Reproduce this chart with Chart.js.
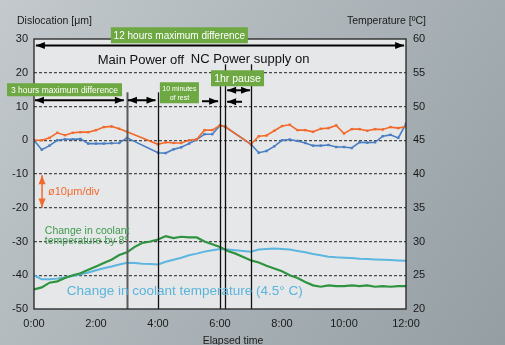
<!DOCTYPE html>
<html>
<head>
<meta charset="utf-8">
<script src="https://cdn.jsdelivr.net/npm/chart.js@4"></script>
<style>
  html, body { margin: 0; padding: 0; }
  #wrap { position: relative; width: 505px; height: 345px; }
</style>
</head>
<body>
<div id="wrap"><canvas id="chart"></canvas></div>
<script>
// Elapsed time (hours) of the dislocation readings
const dislocTimes = [0, 0.25, 0.5, 0.75, 1, 1.25, 1.5, 1.75, 2, 2.25, 2.5, 2.75, 3,
  4, 4.25, 4.5, 4.75, 5, 5.25, 5.5, 5.75, 6,
  6.17,
  7, 7.25, 7.5, 7.75, 8, 8.25, 8.5, 8.75, 9, 9.25, 9.5, 9.75, 10, 10.25, 10.5, 10.75, 11, 11.25, 11.5, 11.75, 12];
// Dislocation [μm] - orange series
const dislocOrange = [0, 0, 0.7, 2.2, 1.5, 2.2, 2.4, 2.4, 3.0, 3.9, 4.1, 3.4, 2.5,
  -1.2, -0.6, -0.8, -0.8, 0, 0.3, 3.0, 3.0, 4.4,
  4.0,
  -1.2, 1.2, 1.4, 2.8, 4.2, 4.6, 3.0, 3.0, 2.5, 3.4, 3.6, 4.4, 2.0, 3.3, 3.3, 2.8, 3.3, 3.2, 3.9, 3.6, 4.1];
// Dislocation [μm] - blue series
const dislocBlue = [0, -2.8, -1.6, 0, 0.3, 0.3, 0.4, -1.0, -1.0, -1.0, -0.9, -0.8, 0.7,
  -3.7, -3.8, -2.7, -2.1, -1.0, 0.2, 1.8, 1.8, 4.4,
  4.0,
  -1.2, -3.7, -3.2, -1.8, 0, 0.2, -0.2, -0.8, -1.6, -1.6, -1.4, -2.0, -2.0, -2.3, -0.6, -0.7, -0.6, 1.2, 1.6, 0.7, 4.9];

// Elapsed time (hours) of the coolant temperature readings
const tempTimes = [0, 0.25, 0.5, 0.75, 1, 1.25, 1.5, 1.75, 2, 2.25, 2.5, 2.75, 3, 3.25, 3.5, 3.75,
  4, 4.25, 4.5, 4.75, 5, 5.25, 5.5, 5.75, 6, 6.25, 6.5, 6.75, 7, 7.25, 7.5, 7.75,
  8, 8.25, 8.5, 8.75, 9, 9.25, 9.5, 9.75, 10, 10.25, 10.5, 10.75, 11, 11.25, 11.5, 11.75, 12];
// Temperature [ºC] - coolant changed by 8°
const coolant8 = [22.9, 23.2, 23.9, 24.1, 24.6, 25.0, 25.3, 25.8, 26.3, 26.8, 27.3, 28.0, 28.4, 29.2, 29.8, 30.0,
  30.3, 30.8, 30.5, 30.7, 30.6, 30.6, 30.0, 29.6, 29.2, 28.6, 28.2, 27.7, 27.2, 26.9, 26.4, 26.0,
  25.6, 25.0, 24.6, 24.0, 23.5, 23.3, 23.5, 23.4, 23.4, 23.5, 23.4, 23.5, 23.3, 23.4, 23.3, 23.4, 23.4];
// Temperature [ºC] - coolant changed by 4.5°
const coolant45 = [25.0, 24.4, 24.4, 24.5, 24.7, 24.9, 25.15, 25.4, 25.75, 26.05, 26.3, 26.6, 26.85, 26.8, 26.7, 26.65,
  26.6, 27.0, 27.3, 27.6, 27.95, 28.2, 28.5, 28.7, 28.9, 28.8, 28.7, 28.6, 28.5, 28.8, 28.9, 28.95,
  28.9, 28.8, 28.6, 28.4, 28.15, 27.95, 27.75, 27.65, 27.6, 27.55, 27.45, 27.4, 27.35, 27.3, 27.25, 27.2, 27.15];

const FONT = '"Liberation Sans", Arial, sans-serif';
const GREEN_BOX = '#6ea843';

function toPoints(xs, ys) {
  return xs.map((x, i) => ({ x: x, y: ys[i] }));
}

// Draws a straight arrow, heads: 'both' or 'end'
function arrow(ctx, x1, y1, x2, y2, heads, color, width) {
  const ang = Math.atan2(y2 - y1, x2 - x1);
  const len = 9, half = 3.5;
  ctx.strokeStyle = color;
  ctx.fillStyle = color;
  ctx.lineWidth = width;
  ctx.beginPath();
  ctx.moveTo(x1, y1);
  ctx.lineTo(x2, y2);
  ctx.stroke();
  const head = (x, y, a) => {
    ctx.beginPath();
    ctx.moveTo(x, y);
    ctx.lineTo(x - len * Math.cos(a) + half * Math.sin(a), y - len * Math.sin(a) - half * Math.cos(a));
    ctx.lineTo(x - len * Math.cos(a) - half * Math.sin(a), y - len * Math.sin(a) + half * Math.cos(a));
    ctx.closePath();
    ctx.fill();
  };
  head(x2, y2, ang);
  if (heads === 'both') head(x1, y1, ang + Math.PI);
}

const overlay = {
  id: 'overlay',
  beforeDraw(chart) {
    const { ctx, width, height, chartArea: a } = chart;
    ctx.save();
    const g = ctx.createLinearGradient(0, 0, width, height);
    g.addColorStop(0, '#c3c9cd');
    g.addColorStop(1, '#949ea3');
    ctx.fillStyle = g;
    ctx.fillRect(0, 0, width, height);
    ctx.fillStyle = '#e6e7e9';
    ctx.fillRect(a.left, a.top, a.right - a.left, a.bottom - a.top);
    ctx.restore();
  },
  afterDatasetsDraw(chart) {
    const { ctx, chartArea: a } = chart;
    const X = t => chart.scales.x.getPixelForValue(t);
    const Y = v => chart.scales.y.getPixelForValue(v);
    ctx.save();

    // event lines (time, top value)
    [[3, 14.2, '#5a5a5a', 2], [4, 14.2, '#111', 1.3], [6, 16, '#111', 1.3],
     [6.17, 22.5, '#111', 1.3], [7, 22.5, '#111', 1.3]].forEach(([t, top, c, w]) => {
      ctx.strokeStyle = c;
      ctx.lineWidth = w;
      ctx.beginPath();
      ctx.moveTo(Math.round(X(t)) + 0.5, Y(top));
      ctx.lineTo(Math.round(X(t)) + 0.5, a.bottom);
      ctx.stroke();
    });

    // frame
    ctx.strokeStyle = '#222';
    ctx.lineWidth = 1.3;
    ctx.strokeRect(a.left, a.top, a.right - a.left, a.bottom - a.top);

    // arrows
    arrow(ctx, X(0.06), Y(28.1), X(11.94), Y(28.1), 'both', '#000', 2);
    arrow(ctx, X(0.03), Y(11.85), X(2.9), Y(11.85), 'both', '#000', 2);
    arrow(ctx, X(3.03), Y(11.85), X(3.92), Y(11.85), 'both', '#000', 2);
    arrow(ctx, X(5.42), Y(11.56), X(5.94), Y(11.56), 'end', '#000', 2);
    arrow(ctx, X(6.71), Y(11.4), X(6.23), Y(11.4), 'end', '#000', 2);
    arrow(ctx, X(6.23), Y(14.8), X(6.97), Y(14.8), 'both', '#000', 2);
    arrow(ctx, X(0.26), Y(-10.4), X(0.26), Y(-19.9), 'both', '#f06a2c', 1.5);

    // green label boxes
    [[['12 hours maximum difference'], 2.48, 6.9, 33.48, 28.74, 10],
     [['3 hours maximum difference'], -0.87, 2.84, 16.89, 13.04, 8.5],
     [['10 minutes', 'of rest'], 4.06, 5.32, 17.19, 10.96, 7],
     [['1hr pause'], 5.71, 7.42, 20.74, 16.0, 10.5]].forEach(([lines, t0, t1, v0, v1, fs]) => {
      const x0 = X(t0), x1 = X(t1), y0 = Y(v0), y1 = Y(v1);
      ctx.fillStyle = GREEN_BOX;
      ctx.fillRect(x0, y0, x1 - x0, y1 - y0);
      ctx.fillStyle = '#fff';
      ctx.font = fs + 'px ' + FONT;
      ctx.textAlign = 'center';
      ctx.textBaseline = 'middle';
      const lh = fs * 1.25;
      const cy = (y0 + y1) / 2 - (lines.length - 1) * lh / 2;
      lines.forEach((s, i) => ctx.fillText(s, (x0 + x1) / 2, cy + i * lh + 0.5));
    });

    // plain texts
    ctx.textBaseline = 'alphabetic';
    ctx.fillStyle = '#111';
    ctx.font = '13px ' + FONT;
    ctx.textAlign = 'center';
    ctx.fillText('Main Power off', X(3.45), Y(22.5));
    ctx.textAlign = 'left';
    ctx.fillText('NC Power supply on', X(5.06), Y(22.8));

    ctx.fillStyle = '#f06a2c';
    ctx.font = '11px ' + FONT;
    ctx.fillText('ø10μm/div', X(0.45), Y(-16.1));

    ctx.fillStyle = '#3e9a4c';
    ctx.font = '10.5px ' + FONT;
    ctx.fillText('Change in coolant', X(0.35), Y(-27.9));
    ctx.fillText('temperature by 8°', X(0.35), Y(-30.6));

    ctx.fillStyle = '#5ab4dc';
    ctx.font = '13.5px ' + FONT;
    ctx.fillText('Change in coolant temperature (4.5° C)', X(1.06), Y(-45.9));
    ctx.restore();
  },
  afterDraw(chart) {
    const { ctx, chartArea: a } = chart;
    ctx.save();
    ctx.fillStyle = '#1a1a1a';
    ctx.font = '10.5px ' + FONT;
    ctx.textBaseline = 'alphabetic';
    ctx.textAlign = 'left';
    ctx.fillText('Dislocation [μm]', 17, 24);
    ctx.textAlign = 'right';
    ctx.fillText('Temperature [ºC]', 426, 24);
    ctx.textAlign = 'center';
    ctx.fillText('Elapsed time', (a.left + a.right) / 2 + 13, 344);
    ctx.restore();
  }
};

Chart.defaults.font.family = FONT;
Chart.defaults.font.size = 11;
Chart.defaults.color = '#1a1a1a';

new Chart(document.getElementById('chart'), {
  type: 'line',
  data: {
    datasets: [
      {
        label: 'Dislocation A',
        data: toPoints(dislocTimes, dislocOrange),
        yAxisID: 'y',
        borderColor: '#f26a2b',
        backgroundColor: '#f26a2b',
        borderWidth: 1.6,
        pointStyle: 'rect',
        pointRadius: 1.7,
        pointBorderWidth: 0,
        tension: 0
      },
      {
        label: 'Dislocation B',
        data: toPoints(dislocTimes, dislocBlue),
        yAxisID: 'y',
        borderColor: '#4a7ec2',
        backgroundColor: '#4a7ec2',
        borderWidth: 1.6,
        pointStyle: 'rect',
        pointRadius: 1.7,
        pointBorderWidth: 0,
        tension: 0
      },
      {
        label: 'Coolant 8°',
        data: toPoints(tempTimes, coolant8),
        yAxisID: 'y2',
        borderColor: '#2f9440',
        borderWidth: 2.2,
        pointRadius: 0,
        tension: 0
      },
      {
        label: 'Coolant 4.5°',
        data: toPoints(tempTimes, coolant45),
        yAxisID: 'y2',
        borderColor: '#5cb6df',
        borderWidth: 2,
        pointRadius: 0,
        tension: 0
      }
    ]
  },
  options: {
    responsive: true,
    maintainAspectRatio: false,
    animation: false,
    layout: { padding: { top: 39, left: 0, right: 0, bottom: 0 } },
    plugins: {
      legend: { display: false },
      tooltip: { enabled: false }
    },
    scales: {
      x: {
        type: 'linear',
        min: 0,
        max: 12,
        grid: { display: false },
        border: { display: false },
        ticks: {
          stepSize: 2,
          padding: 0,
          maxRotation: 0,
          color: '#1a1a1a',
          callback: v => v + ':00'
        },
        afterFit(s) { s.height = 36; }
      },
      y: {
        position: 'left',
        min: -50,
        max: 30,
        grid: {
          drawTicks: false,
          lineWidth: 1.2,
          color: c => (c.tick.value === 30 || c.tick.value === -50) ? 'rgba(0,0,0,0)' : '#4a4a4a'
        },
        border: { display: false, dash: [3, 2] },
        ticks: { stepSize: 10, padding: 6, color: '#1a1a1a' },
        afterFit(s) { s.width = 34; }
      },
      y2: {
        position: 'right',
        min: 20,
        max: 60,
        grid: { display: false, drawTicks: false },
        border: { display: false },
        ticks: { stepSize: 5, padding: 7, color: '#1a1a1a' },
        afterFit(s) { s.width = 99; }
      }
    }
  },
  plugins: [overlay]
});
</script>
</body>
</html>
